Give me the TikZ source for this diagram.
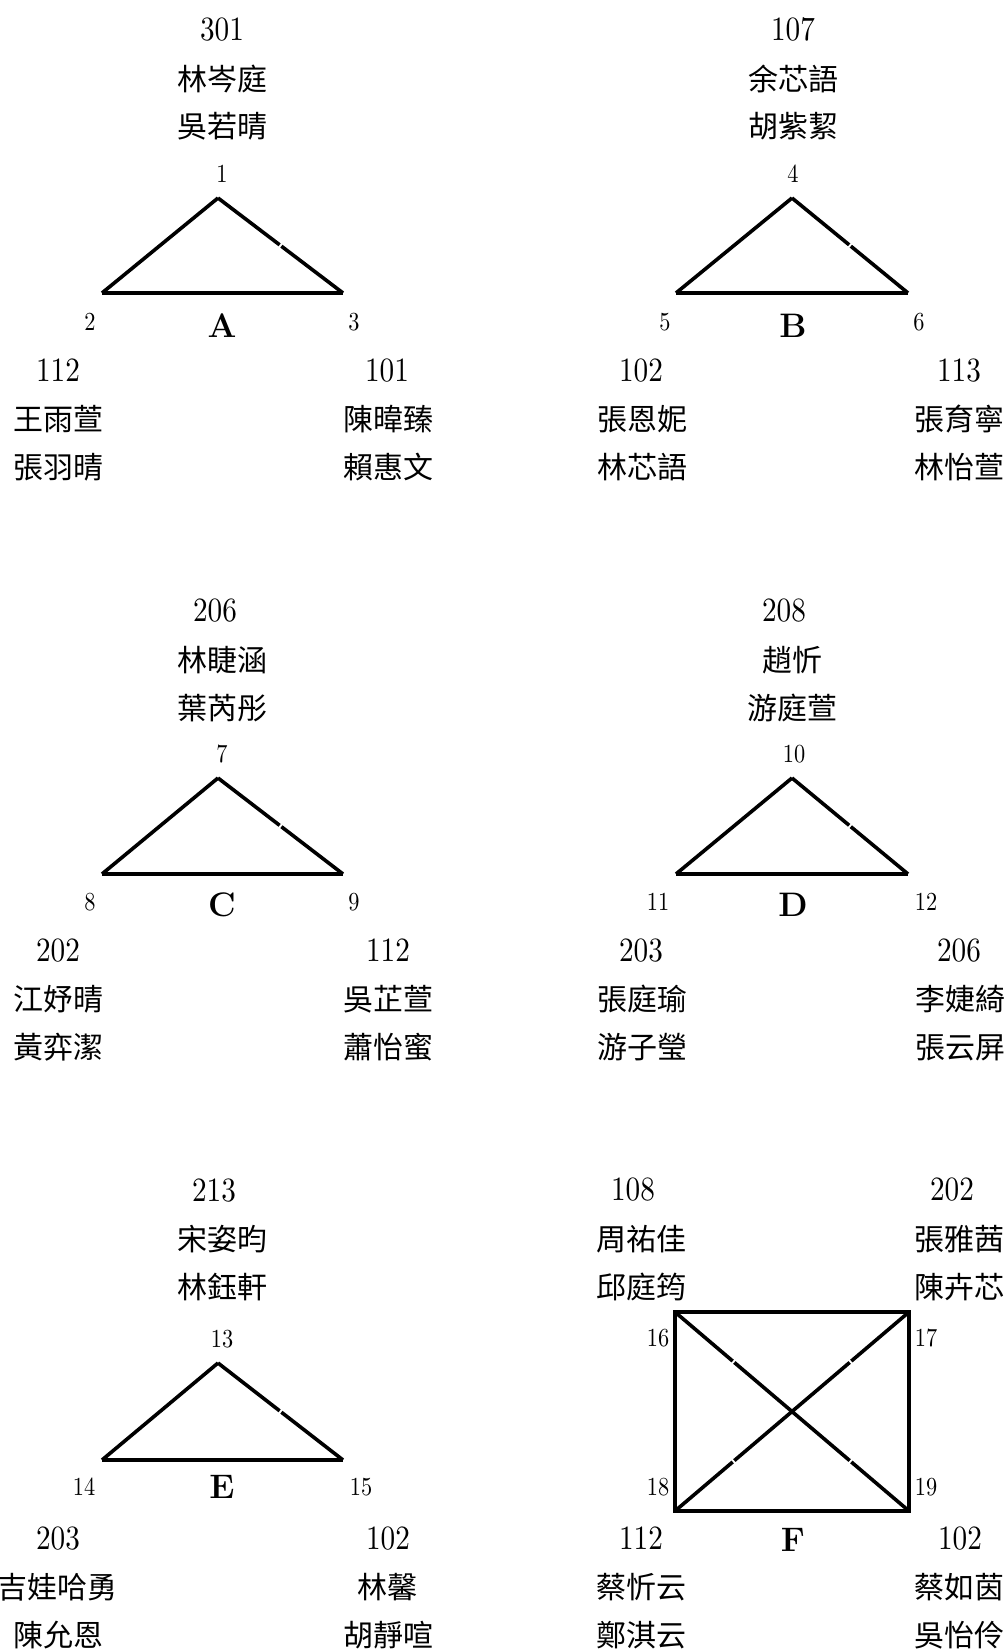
\documentclass[tikz,border=0pt]{standalone}
\usepackage{fontspec}
\newfontfamily\cjk{Noto Sans CJK TC}
\newfontfamily\numfont[FakeStretch=0.86]{lmroman10-regular.otf}
\usetikzlibrary{calc}
\tikzset{
  big/.style={inner sep=0pt, anchor=base, yshift=-11pt, font={\numfont\fontsize{34}{40}\selectfont}},
  vlab/.style={inner sep=0pt, anchor=base, yshift=-8.4pt, font={\numfont\fontsize{26}{30}\selectfont}},
  nm/.style={inner sep=0pt, anchor=base, yshift=-11.4pt, font={\cjk\fontsize{30}{34}\selectfont}},
  grp/.style={inner sep=0pt, anchor=base, yshift=-11.7pt, font={\bfseries\fontsize{34}{40}\selectfont}},
  edge/.style={line width=3.6pt, line cap=butt, line join=miter},
}
\newcommand{\brk}[2]{\draw[edge] (#1) -- ($(#1)!0.493!(#2)$); \draw[edge] ($(#1)!0.507!(#2)$) -- (#2);}
\begin{document}
\begin{tikzpicture}[x=1pt,y=-1pt]
\useasboundingbox (0,0) rectangle (1008,1650);
% ---------- A ----------
\node[big] (rA) at (222,29) {301};
\node[nm] (tA1) at (222,79) {林岑庭};
\node[nm] (tA2) at (222,126) {吳若晴};
\node[vlab] (n1) at (222,174) {1};
\coordinate (v1) at (218,198);
\coordinate (v2) at (102,293);
\coordinate (v3) at (343,293);
\node[vlab] (n2) at (90,322) {2};
\node[grp] (gA) at (222,326) {A};
\node[vlab] (n3) at (354,322) {3};
\node[big] (lA0) at (58,370) {112};
\node[nm] (lA1) at (58,419) {王雨萱};
\node[nm] (lA2) at (58,467) {張羽晴};
\node[big] (rA0) at (387,370) {101};
\node[nm] (rA1) at (388,419) {陳暐臻};
\node[nm] (rA2) at (388,467) {賴惠文};
\draw[edge] (v2) -- (v1);
\draw[edge] (v2) -- (v3);
\brk{v1}{v3}
% ---------- B ----------
\node[big] (rB) at (793,29) {107};
\node[nm] (tB1) at (793,79) {余芯語};
\node[nm] (tB2) at (793,126) {胡紫絜};
\node[vlab] (n4) at (793,174) {4};
\coordinate (v4) at (792,198);
\coordinate (v5) at (676,293);
\coordinate (v6) at (908,293);
\node[vlab] (n5) at (665,322) {5};
\node[grp] (gB) at (793,326) {B};
\node[vlab] (n6) at (919,322) {6};
\node[big] (lB0) at (641,370) {102};
\node[nm] (lB1) at (642,419) {張恩妮};
\node[nm] (lB2) at (642,467) {林芯語};
\node[big] (rB0) at (959,370) {113};
\node[nm] (rB1) at (959,419) {張育寧};
\node[nm] (rB2) at (959,467) {林怡萱};
\draw[edge] (v5) -- (v4);
\draw[edge] (v5) -- (v6);
\brk{v4}{v6}
% ---------- C ----------
\node[big] (rC) at (215,610) {206};
\node[nm] (tC1) at (222,660) {林睫涵};
\node[nm] (tC2) at (222,708) {葉芮彤};
\node[vlab] (n7) at (222,754) {7};
\coordinate (v7) at (218,778);
\coordinate (v8) at (102,874);
\coordinate (v9) at (343,874);
\node[vlab] (n8) at (90,902) {8};
\node[grp] (gC) at (222,905) {C};
\node[vlab] (n9) at (354,902) {9};
\node[big] (lC0) at (58,950) {202};
\node[nm] (lC1) at (58,999) {江妤晴};
\node[nm] (lC2) at (58,1047) {黃弈潔};
\node[big] (rC0) at (388,950) {112};
\node[nm] (rC1) at (388,999) {吳芷萱};
\node[nm] (rC2) at (388,1047) {蕭怡蜜};
\draw[edge] (v8) -- (v7);
\draw[edge] (v8) -- (v9);
\brk{v7}{v9}
% ---------- D ----------
\node[big] (rD) at (784,610) {208};
\node[nm] (tD1) at (792,660) {趙忻};
\node[nm] (tD2) at (792,708) {游庭萱};
\node[vlab] (n10) at (794,754) {10};
\coordinate (v10) at (792,778);
\coordinate (v11) at (676,874);
\coordinate (v12) at (908,874);
\node[vlab] (n11) at (658,902) {11};
\node[grp] (gD) at (793,905) {D};
\node[vlab] (n12) at (926,902) {12};
\node[big] (lD0) at (641,950) {203};
\node[nm] (lD1) at (642,999) {張庭瑜};
\node[nm] (lD2) at (642,1047) {游子瑩};
\node[big] (rD0) at (959,950) {206};
\node[nm] (rD1) at (960,999) {李婕綺};
\node[nm] (rD2) at (960,1047) {張云屏};
\draw[edge] (v11) -- (v10);
\draw[edge] (v11) -- (v12);
\brk{v10}{v12}
% ---------- E ----------
\node[big] (rE) at (214,1190) {213};
\node[nm] (tE1) at (222,1239) {宋姿昀};
\node[nm] (tE2) at (222,1287) {林鈺軒};
\node[vlab] (n13) at (222,1339) {13};
\coordinate (v13) at (218,1363);
\coordinate (v14) at (102,1460);
\coordinate (v15) at (343,1460);
\node[vlab] (n14) at (84,1487) {14};
\node[grp] (gE) at (222,1487) {E};
\node[vlab] (n15) at (361,1487) {15};
\node[big] (lE0) at (58,1538) {203};
\node[nm] (lE1) at (58,1587) {吉娃哈勇};
\node[nm] (lE2) at (58,1635) {陳允恩};
\node[big] (rE0) at (388,1538) {102};
\node[nm] (rE1) at (387,1587) {林馨};
\node[nm] (rE2) at (388,1635) {胡靜喧};
\draw[edge] (v14) -- (v13);
\draw[edge] (v14) -- (v15);
\brk{v13}{v15}
% ---------- F ----------
\node[big] (lF0) at (633,1189) {108};
\node[nm] (lF1) at (641,1239) {周祐佳};
\node[nm] (lF2) at (641,1287) {邱庭筠};
\node[big] (rF0) at (952,1189) {202};
\node[nm] (rF1) at (959,1239) {張雅茜};
\node[nm] (rF2) at (959,1287) {陳卉芯};
\coordinate (v16) at (675,1312);
\coordinate (v17) at (909,1312);
\coordinate (v18) at (675,1511);
\coordinate (v19) at (909,1511);
\coordinate (cF) at ($(v16)!0.5!(v19)$);
\node[vlab] (n16) at (658,1338) {16};
\node[vlab] (n17) at (926,1338) {17};
\node[vlab] (n18) at (658,1487) {18};
\node[vlab] (n19) at (926,1487) {19};
\node[grp] (gF) at (793,1540) {F};
\node[big] (bF0) at (641,1538) {112};
\node[nm] (bF1) at (641,1587) {蔡忻云};
\node[nm] (bF2) at (641,1635) {鄭淇云};
\node[big] (cF0) at (960,1538) {102};
\node[nm] (cF1) at (959,1587) {蔡如茵};
\node[nm] (cF2) at (959,1635) {吳怡伶};
\draw[edge] (v16) -- (v17) -- (v19) -- (v18) -- cycle;
\brk{v16}{cF}
\brk{cF}{v19}
\brk{v18}{cF}
\brk{cF}{v17}
\end{tikzpicture}
\end{document}
